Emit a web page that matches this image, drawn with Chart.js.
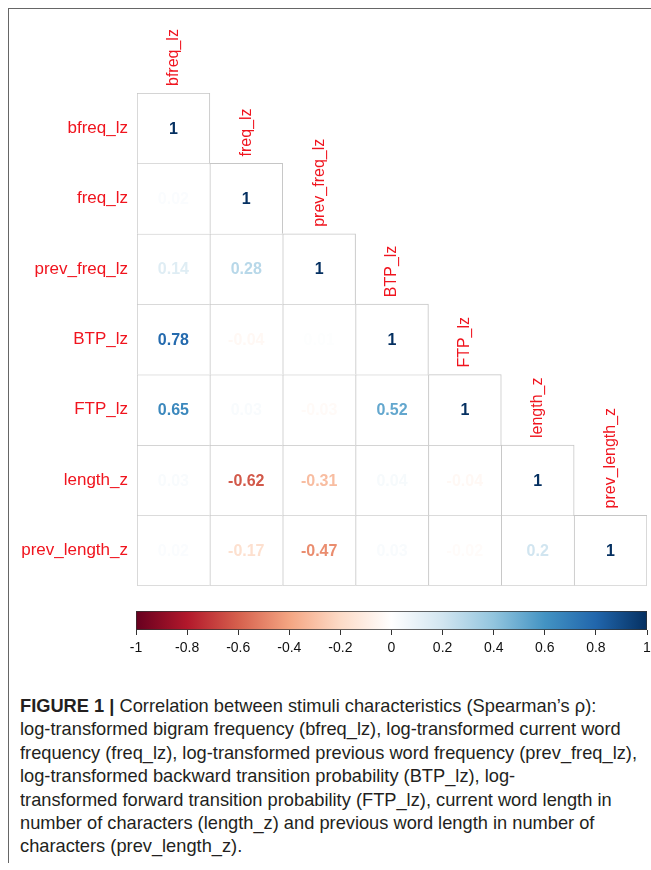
<!DOCTYPE html>
<html>
<head>
<meta charset="UTF-8">
<title>Correlation between stimuli characteristics</title>
<script src="https://cdn.jsdelivr.net/npm/chart.js@4"></script>
<style>
  body { margin: 0; background: #fff; width: 651px; height: 870px; position: relative; overflow: hidden; font-family: "Liberation Sans", Arial, sans-serif; }
  #frame { position: absolute; left: 8px; top: 8px; width: 660px; height: 854px; border-top: 1px solid #666; border-left: 1px solid #666; }
  #matrix { position: absolute; left: 0; top: 0; }
  #colorbar { position: absolute; left: 0; top: 600px; }
  #caption { position: absolute; left: 20px; top: 694px; font-size: 19px; line-height: 23.4px; color: #231f20; white-space: nowrap; transform-origin: left top; }
  #caption b { font-weight: bold; }
</style>
</head>
<body>
<div id="frame"></div>
<canvas id="matrix" width="651" height="605"></canvas>
<canvas id="colorbar" width="651" height="60"></canvas>
<div id="caption">
  <div><b>FIGURE 1 |</b> Correlation between stimuli characteristics (Spearman’s ρ):</div>
  <div>log-transformed bigram frequency (bfreq_lz), log-transformed current word</div>
  <div id="longLine">frequency (freq_lz), log-transformed previous word frequency (prev_freq_lz),</div>
  <div>log-transformed backward transition probability (BTP_lz), log-</div>
  <div>transformed forward transition probability (FTP_lz), current word length in</div>
  <div>number of characters (length_z) and previous word length in number of</div>
  <div>characters (prev_length_z).</div>
</div>
<script>
// variable names (rows and columns)
const vars = ['bfreq_lz', 'freq_lz', 'prev_freq_lz', 'BTP_lz', 'FTP_lz', 'length_z', 'prev_length_z'];

// lower triangle of the Spearman matrix, one array per row
const rowBfreq = [1];
const rowFreq = [0.02, 1];
const rowPrevFreq = [0.14, 0.28, 1];
const rowBTP = [0.78, -0.04, 0.01, 1];
const rowFTP = [0.65, 0.03, -0.03, 0.52, 1];
const rowLength = [0.03, -0.62, -0.31, 0.04, -0.04, 1];
const rowPrevLength = [0.02, -0.17, -0.47, 0.03, -0.02, 0.2, 1];
const rows = [rowBfreq, rowFreq, rowPrevFreq, rowBTP, rowFTP, rowLength, rowPrevLength];

// colour bar
const cbTicks = [-1, -0.8, -0.6, -0.4, -0.2, 0, 0.2, 0.4, 0.6, 0.8, 1];
const rdbu = ['#67001F', '#B2182B', '#D6604D', '#F4A582', '#FDDBC7', '#FFFFFF',
              '#D1E5F0', '#92C5DE', '#4393C3', '#2166AC', '#053061'];

function hex2rgb(h) {
  return [parseInt(h.slice(1, 3), 16), parseInt(h.slice(3, 5), 16), parseInt(h.slice(5, 7), 16)];
}
function colFor(v) {
  let t = (v + 1) / 2 * (rdbu.length - 1);
  let i = Math.min(Math.floor(t), rdbu.length - 2);
  let f = t - i;
  let a = hex2rgb(rdbu[i]), b = hex2rgb(rdbu[i + 1]);
  let c = a.map((x, k) => Math.round(x + (b[k] - x) * f));
  return 'rgb(' + c.join(',') + ')';
}

const red = '#f0141e';
const gridCol = '#c6c6c6';

// one floating-bar dataset per row: the cell spans [i, i+1] on the y scale
const datasets = rows.map((r, i) => ({
  data: vars.map((_, j) => j <= i ? [i, i + 1] : null),
  backgroundColor: '#ffffff',
  borderColor: gridCol,
  borderSkipped: false,
  borderWidth: ctx => ({ top: 1, left: 1, right: ctx.dataIndex === i ? 1 : 0, bottom: i === rows.length - 1 ? 1 : 0 }),
  barPercentage: 1,
  categoryPercentage: 1,
  grouped: false
}));

const cellText = {
  id: 'cellText',
  afterDatasetsDraw(chart) {
    const ctx = chart.ctx, xs = chart.scales.x, ys = chart.scales.y;
    ctx.save();
    ctx.font = 'bold 16px "Liberation Sans", Arial, sans-serif';
    ctx.textAlign = 'center';
    ctx.textBaseline = 'middle';
    rows.forEach((r, i) => {
      r.forEach((v, j) => {
        ctx.fillStyle = colFor(v);
        ctx.fillText(String(v), xs.getPixelForValue(j), ys.getPixelForValue(i + 0.5) + 1);
      });
    });
    // column names above the diagonal cells
    ctx.font = '16px "Liberation Sans", Arial, sans-serif';
    ctx.fillStyle = red;
    ctx.textAlign = 'left';
    vars.forEach((name, j) => {
      ctx.save();
      ctx.translate(xs.getPixelForValue(j), ys.getPixelForValue(j) - 7);
      ctx.rotate(-Math.PI / 2);
      ctx.fillText(name, 0, 0);
      ctx.restore();
    });
    ctx.restore();
  }
};

new Chart(document.getElementById('matrix').getContext('2d'), {
  type: 'bar',
  data: { labels: vars, datasets: datasets },
  options: {
    responsive: false,
    animation: false,
    events: [],
    layout: { padding: { top: 93, right: 4, bottom: 5, left: 0 } },
    plugins: { legend: { display: false }, tooltip: { enabled: false } },
    scales: {
      x: { display: false },
      y: {
        type: 'linear', min: 0, max: 7, reverse: true,
        afterFit: s => { s.width = 137; },
        afterBuildTicks: s => { s.ticks = vars.map((_, i) => ({ value: i + 0.5 })); },
        grid: { display: false, drawTicks: false },
        border: { display: false },
        ticks: {
          padding: 9,
          color: red,
          font: { size: 17, family: '"Liberation Sans", Arial, sans-serif' },
          callback: v => vars[Math.floor(v)]
        }
      }
    }
  },
  plugins: [cellText]
});

new Chart(document.getElementById('colorbar').getContext('2d'), {
  type: 'bar',
  data: {
    labels: [''],
    datasets: [{
      data: [[-1, 1]],
      backgroundColor: ctx => {
        const a = ctx.chart.chartArea;
        if (!a) return '#fff';
        const g = ctx.chart.ctx.createLinearGradient(a.left, 0, a.right, 0);
        rdbu.forEach((c, k) => g.addColorStop(k / (rdbu.length - 1), c));
        return g;
      },
      borderColor: '#333',
      borderWidth: 1,
      borderSkipped: false,
      barPercentage: 1,
      categoryPercentage: 1
    }]
  },
  options: {
    indexAxis: 'y',
    responsive: false,
    animation: false,
    events: [],
    layout: { padding: { top: 11, right: 4, bottom: 0, left: 136 } },
    plugins: { legend: { display: false }, tooltip: { enabled: false } },
    scales: {
      y: { display: false },
      x: {
        type: 'linear', min: -1, max: 1,
        afterFit: s => { s.height = 30; s.paddingLeft = 0; s.paddingRight = 0; },
        afterBuildTicks: s => { s.ticks = cbTicks.map(v => ({ value: v })); },
        grid: { drawOnChartArea: false, drawTicks: true, tickLength: 5, color: '#333' },
        border: { display: false },
        ticks: {
          padding: 5,
          color: '#111',
          maxRotation: 0,
          autoSkip: false,
          font: { size: 14, family: '"Liberation Sans", Arial, sans-serif' },
          callback: v => String(+v.toFixed(1))
        }
      }
    }
  }
});

// squeeze the caption to the condensed width of the original
(function () {
  const cap = document.getElementById('caption');
  const line = document.getElementById('longLine');
  const span = document.createElement('span');
  span.textContent = line.textContent;
  line.textContent = '';
  line.appendChild(span);
  const f = 617 / span.getBoundingClientRect().width;
  cap.style.transform = 'scaleX(' + f + ')';
})();
</script>
</body>
</html>
